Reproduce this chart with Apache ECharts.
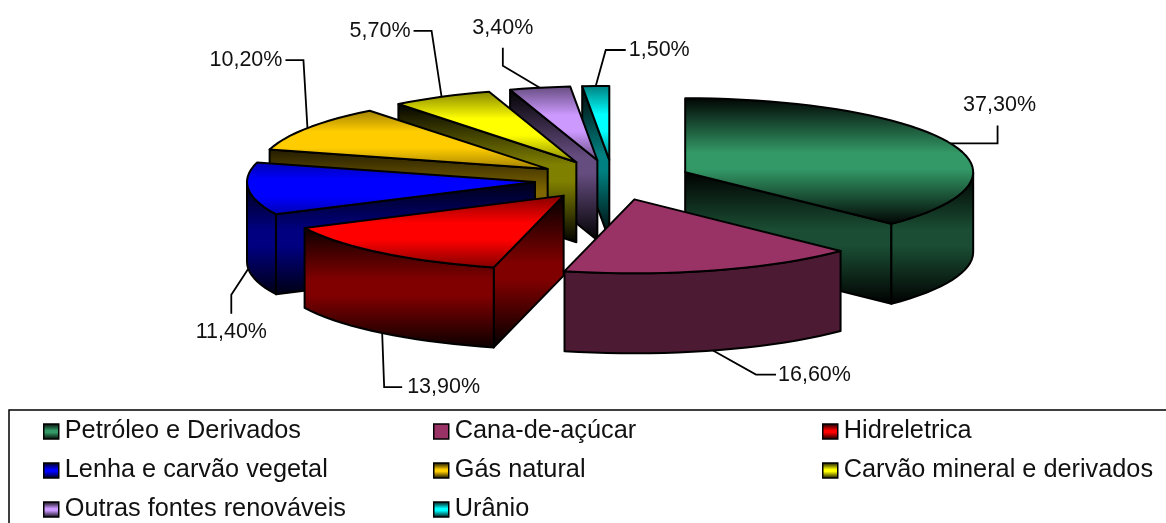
<!DOCTYPE html>
<html>
<head>
<meta charset="utf-8">
<style>html,body{margin:0;padding:0;background:#fff}#chart{width:1166px;height:523px}</style>
<script src="https://cdn.jsdelivr.net/npm/echarts@6/dist/echarts.min.js"></script>
</head>
<body>
<div id="chart"></div>
<script>
// Matriz energética: participação de cada fonte (%)
var categories = ['Petróleo e Derivados', 'Cana-de-açúcar', 'Hidreletrica', 'Lenha e carvão vegetal',
  'Gás natural', 'Carvão mineral e derivados', 'Outras fontes renováveis', 'Urânio'];
var shares = [37.3, 16.6, 13.9, 11.4, 10.2, 5.7, 3.4, 1.5];

// Face colours: lit top, shaded wall; flat slices carry no shading
var topColors = ['#339966', '#993366', '#ff0000', '#0000ff', '#ffcc00', '#ffff00', '#cc99ff', '#00ffff'];
var wallColors = ['#1a4d33', '#4d1a33', '#800000', '#000080', '#806600', '#808000', '#664d80', '#008080'];
var flatSlices = [1];

// Projection of the tilted, exploded pie
var CX = 613, CY = 180, RX = 288, RY = 74, DEPTH = 80, EXPLODE = 0.272;
// Shading fades to black this many pixels from a face's middle, so short faces never reach black
var FADE_SPAN = 64, FADE_FLAT = 8;
var FONT = '"Liberation Sans", Arial, sans-serif';

// Leader route per slice, as offsets from the slice's rim anchor, then label placement
var leaders = [
  { path: [[47, 0], [47, -18]], dx: 49, dy: -38, align: 'center', wall: false },
  { path: [[43, 24], [63, 24]], dx: 65, dy: 25, align: 'left', wall: true },
  { path: [[2, 54], [20, 54]], dx: 25, dy: 54, align: 'left', wall: true },
  { path: [[-17, 26], [-17, 45]], dx: -17, dy: 63, align: 'center', wall: true },
  { path: [[-4, -68], [-22, -68]], dx: -25, dy: -68, align: 'right', wall: false },
  { path: [[-10, -66], [-28, -66]], dx: -31, dy: -66, align: 'right', wall: false },
  { path: [[-37, -22], [-37, -40]], dx: -37, dy: -60, align: 'center', wall: false },
  { path: [[10, -36], [30, -36]], dx: 33, dy: -36, align: 'left', wall: false }
];

// Painted back to front so nearer slices cover farther ones
var paintOrder = [7, 6, 5, 4, 3, 2, 0, 1];

var total = shares.reduce(function (a, b) { return a + b; }, 0);
var starts = [];
shares.reduce(function (acc, v, i) { starts[i] = acc; return acc + v; }, 0);

function toRad(share) { return share / total * Math.PI * 2; }

function dim(hex, k) {
  var n = parseInt(hex.slice(1), 16);
  return 'rgb(' + Math.round((n >> 16) * k) + ',' + Math.round(((n >> 8) & 255) * k) + ',' + Math.round((n & 255) * k) + ')';
}

// Vertical black-colour-black ramp sized to the face height
function shaded(color, height) {
  var half = Math.max(height / 2, 1);
  var flat = Math.min(FADE_FLAT / half, 0.9) / 2;
  var edge = Math.max(0, 1 - (half - FADE_FLAT) / (FADE_SPAN - FADE_FLAT));
  return new echarts.graphic.LinearGradient(0, 0, 0, 1, [
    { offset: 0, color: dim(color, edge) },
    { offset: 0.5 - flat, color: color },
    { offset: 0.5 + flat, color: color },
    { offset: 1, color: dim(color, edge) }
  ]);
}
function paint(i, color, height) {
  return flatSlices.indexOf(i) >= 0 ? color : shaded(color, height);
}

function rimPoint(apex, angle, drop) {
  return [apex[0] + RX * Math.sin(angle), apex[1] - RY * Math.cos(angle) + (drop || 0)];
}
function arcPoints(apex, a0, a1, drop) {
  var steps = Math.max(2, Math.ceil((a1 - a0) / 0.05)), pts = [];
  for (var k = 0; k <= steps; k++) pts.push(rimPoint(apex, a0 + (a1 - a0) * k / steps, drop));
  return pts;
}
function face(i, points, color) {
  var ys = points.map(function (p) { return p[1]; });
  var height = Math.max.apply(null, ys) - Math.min.apply(null, ys);
  return {
    type: 'polygon',
    shape: { points: points },
    style: { fill: paint(i, color, height), stroke: '#000', lineWidth: 2, lineJoin: 'round' }
  };
}

function renderSlice(i, value) {
  var a0 = toRad(starts[i]), a1 = a0 + toRad(value), mid = (a0 + a1) / 2;
  var apex = [CX + EXPLODE * RX * Math.sin(mid), CY - EXPLODE * RY * Math.cos(mid)];
  var below = [apex[0], apex[1] + DEPTH];
  var kids = [];

  // Radial walls that face the viewer
  if (Math.sin(a0) < -1e-6) {
    var s = rimPoint(apex, a0);
    kids.push(face(i, [apex, s, [s[0], s[1] + DEPTH], below], wallColors[i]));
  }
  if (Math.sin(a1) > 1e-6) {
    var e = rimPoint(apex, a1);
    kids.push(face(i, [apex, e, [e[0], e[1] + DEPTH], below], wallColors[i]));
  }
  // Curved outer wall, front half of the ellipse only
  var f0 = Math.max(a0, Math.PI / 2), f1 = Math.min(a1, Math.PI * 1.5);
  if (f1 > f0) {
    kids.push(face(i, arcPoints(apex, f0, f1, 0).concat(arcPoints(apex, f0, f1, DEPTH).reverse()), wallColors[i]));
  }
  // Top face
  kids.push(face(i, [apex].concat(arcPoints(apex, a0, a1, 0)), topColors[i]));

  // Leader line and value label
  var lead = leaders[i];
  var anchor = rimPoint(apex, mid, lead.wall ? DEPTH : 0);
  var route = [anchor].concat(lead.path.map(function (p) { return [anchor[0] + p[0], anchor[1] + p[1]]; }));
  kids.push({
    type: 'polyline',
    shape: { points: route },
    style: { fill: 'none', stroke: '#000', lineWidth: 1.8 }
  });
  kids.push({
    type: 'text',
    style: {
      text: value.toFixed(2).replace('.', ',') + '%',
      x: anchor[0] + lead.dx, y: anchor[1] + lead.dy,
      align: lead.align, verticalAlign: 'middle',
      font: '21.5px ' + FONT, fill: '#111'
    }
  });
  return { type: 'group', children: kids };
}

var series = paintOrder.map(function (i) {
  return {
    type: 'custom',
    name: categories[i],
    coordinateSystem: 'none',
    silent: true,
    animation: false,
    // Legend swatches take this fill
    itemStyle: { color: paint(i, topColors[i], 2 * FADE_SPAN) },
    data: [[shares[i]]],
    renderItem: function (params, api) { return renderSlice(i, api.value(0)); }
  };
});

function legendColumn(names, left) {
  return {
    data: names,
    orient: 'vertical',
    left: left,
    top: 419,
    height: 104,
    padding: 0,
    icon: 'rect',
    itemWidth: 15,
    itemHeight: 15,
    itemGap: 14,
    selectedMode: false,
    itemStyle: { borderColor: '#000', borderWidth: 1.5 },
    textStyle: { fontFamily: FONT, fontSize: 25.3, color: '#111', padding: [0, 0, 0, 1], lineHeight: 25 }
  };
}

var chart = echarts.init(document.getElementById('chart'), null, { renderer: 'canvas' });
chart.setOption({
  backgroundColor: '#fff',
  animation: false,
  legend: [
    legendColumn([categories[0], categories[3], categories[6]], 43),
    legendColumn([categories[1], categories[4], categories[7]], 433),
    legendColumn([categories[2], categories[5]], 822)
  ],
  graphic: [{
    type: 'rect',
    shape: { x: 9, y: 410, width: 1300, height: 300 },
    style: { fill: 'none', stroke: '#000', lineWidth: 1.5 },
    silent: true
  }],
  series: series
});
</script>
</body>
</html>
